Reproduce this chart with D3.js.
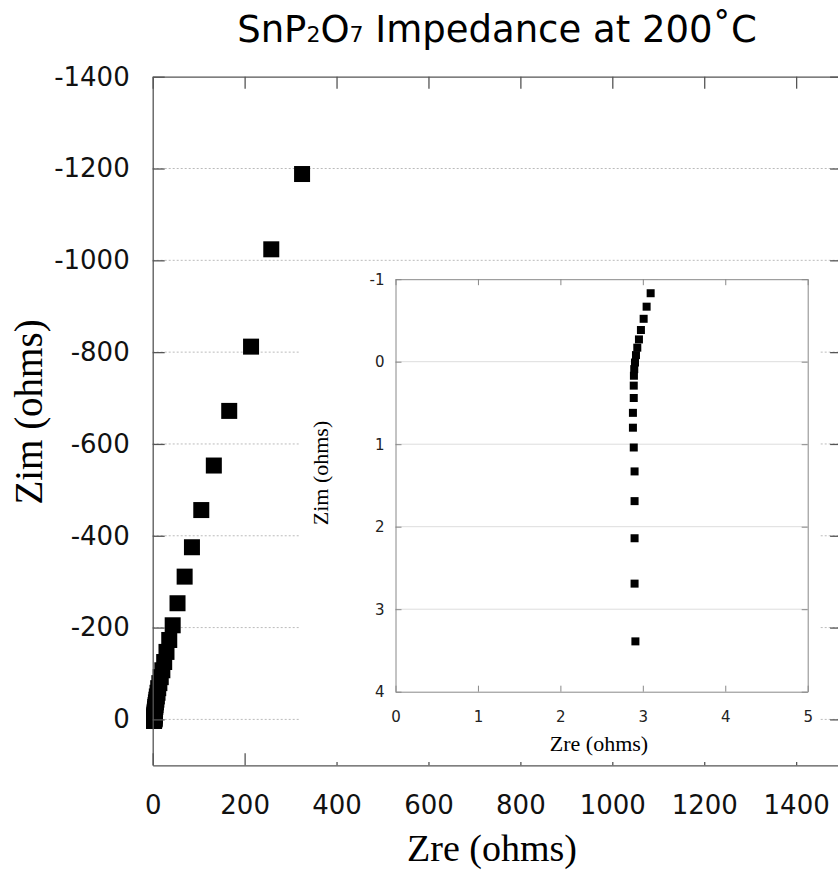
<!DOCTYPE html>
<html>
  <head>
    <meta charset="utf-8" />
    <title>SnP2O7 Impedance at 200˚C</title>
    <script src="https://d3js.org/d3.v7.min.js"></script>
    <style>
      body { margin: 0; background: #fff; }
      svg { display: block; }
    </style>
  </head>
  <body>
    <svg width="838" height="875"></svg>
    <script>
      // measured points, high Zim (low freq) first
      var zre = [325, 258, 214, 166.5, 133, 105.7, 85.4, 69.5, 54, 43.5,
        36, 30, 25, 21, 17.5, 14.5, 12, 10.5, 9, 8, 7, 6.2, 5.6, 5.1, 4.7,
        4.4, 4.1, 3.85, 3.65, 3.5, 3.38, 3.3, 3.24, 3.19, 3.14,
        3.095, 3.046, 3.01, 2.977, 2.953, 2.933, 2.917, 2.905, 2.896, 2.892,
        2.89, 2.89, 2.88, 2.88, 2.89, 2.9, 2.9, 2.9, 2.9, 2.91];
      var zim = [-1188, -1024, -812, -672, -553, -456, -375, -311, -253, -205,
        -173, -147, -125, -107, -92, -79, -68, -58, -50, -43, -37, -31, -27, -23, -19,
        -16, -13, -10, -8, -6, -4.5, -3.3, -2.4, -1.7, -1.05,
        -0.83, -0.667, -0.52, -0.384, -0.27, -0.17, -0.08, 0.01, 0.09, 0.17,
        0.29, 0.44, 0.62, 0.8, 1.04, 1.33, 1.69, 2.14, 2.69, 3.39];

      var mainXTicks = [0, 200, 400, 600, 800, 1000, 1200, 1400];
      var mainYTicks = [-1400, -1200, -1000, -800, -600, -400, -200, 0];
      var insetXTicks = [0, 1, 2, 3, 4, 5];
      var insetYTicks = [-1, 0, 1, 2, 3, 4];

      var points = zre.map(function (d, i) {
        return { re: d, im: zim[i] };
      });

      var svg = d3.select("svg");
      var sans = "DejaVu Sans, sans-serif";
      var serif = "Liberation Serif, Times New Roman, serif";

      // main chart
      var x = d3.scaleLinear().domain([0, 1500]).range([152.7, 842.1]);
      var y = d3.scaleLinear().domain([-1400, 100]).range([76.7, 765.3]);

      svg
        .append("text")
        .attr("x", 497)
        .attr("y", 42)
        .attr("text-anchor", "middle")
        .style("font-family", sans)
        .style("font-size", "37px")
        .html('SnP<tspan font-size="22px">2</tspan>O<tspan font-size="22px">7</tspan> Impedance at 200˚C');

      svg
        .selectAll(".grid")
        .data(mainYTicks.slice(1))
        .enter()
        .append("line")
        .attr("class", "grid")
        .attr("x1", x(0))
        .attr("x2", x(1500))
        .attr("y1", function (d) { return y(d); })
        .attr("y2", function (d) { return y(d); })
        .attr("stroke", "#bbb")
        .attr("stroke-dasharray", "2,2");

      svg
        .selectAll(".pt")
        .data(points)
        .enter()
        .append("rect")
        .attr("class", "pt")
        .attr("x", function (d) { return x(d.re) - 8; })
        .attr("y", function (d) { return y(d.im) - 8; })
        .attr("width", 16)
        .attr("height", 16)
        .attr("fill", "#000");

      function styleAxis(g, size) {
        g.selectAll("path, line").attr("stroke", "#555").attr("stroke-width", 1.3);
        g.selectAll("text")
          .attr("fill", "#111")
          .style("font-family", sans)
          .style("font-size", size);
      }

      svg
        .append("g")
        .attr("transform", "translate(" + x(0) + ",0)")
        .call(d3.axisLeft(y).tickValues(mainYTicks).tickSize(-12).tickSizeOuter(0).tickPadding(23).tickFormat(function (d) { return d; }))
        .call(styleAxis, "26px");
      svg
        .append("g")
        .attr("transform", "translate(" + x(1500) + ",0)")
        .call(d3.axisRight(y).tickValues(mainYTicks).tickSize(-12).tickSizeOuter(0).tickFormat(""))
        .call(styleAxis, "26px");
      svg
        .append("g")
        .attr("transform", "translate(0," + y(100) + ")")
        .call(d3.axisBottom(x).tickValues(mainXTicks).tickSize(-12).tickSizeOuter(0).tickPadding(30).tickFormat(function (d) { return d; }))
        .call(styleAxis, "26px");
      svg
        .append("g")
        .attr("transform", "translate(0," + y(-1400) + ")")
        .call(d3.axisTop(x).tickValues(mainXTicks).tickSize(-12).tickSizeOuter(0).tickFormat(""))
        .call(styleAxis, "26px");

      svg
        .append("text")
        .attr("x", 492)
        .attr("y", 861)
        .attr("text-anchor", "middle")
        .style("font-family", serif)
        .style("font-size", "38px")
        .text("Zre (ohms)");
      svg
        .append("text")
        .attr("transform", "translate(42,412) rotate(-90)")
        .attr("text-anchor", "middle")
        .style("font-family", serif)
        .style("font-size", "39px")
        .text("Zim (ohms)");

      // inset: close-up of the high-frequency end
      svg
        .append("rect")
        .attr("x", 300)
        .attr("y", 266)
        .attr("width", 520)
        .attr("height", 496)
        .attr("fill", "#fff");

      var ix = d3.scaleLinear().domain([0, 5]).range([395.5, 807.7]);
      var iy = d3.scaleLinear().domain([-1, 4]).range([279.2, 691.7]);

      svg
        .append("clipPath")
        .attr("id", "insetClip")
        .append("rect")
        .attr("x", ix(0))
        .attr("y", iy(-1))
        .attr("width", ix(5) - ix(0))
        .attr("height", iy(4) - iy(-1));

      svg
        .selectAll(".igrid")
        .data(insetYTicks.slice(1, -1))
        .enter()
        .append("line")
        .attr("class", "igrid")
        .attr("x1", ix(0))
        .attr("x2", ix(5))
        .attr("y1", function (d) { return iy(d); })
        .attr("y2", function (d) { return iy(d); })
        .attr("stroke", "#ddd");

      svg
        .append("g")
        .attr("clip-path", "url(#insetClip)")
        .selectAll(".ipt")
        .data(points.filter(function (d) { return d.re <= 5; }))
        .enter()
        .append("rect")
        .attr("class", "ipt")
        .attr("x", function (d) { return ix(d.re) - 4; })
        .attr("y", function (d) { return iy(d.im) - 4; })
        .attr("width", 8)
        .attr("height", 8)
        .attr("fill", "#000");

      function styleInset(g) {
        g.selectAll("path, line").attr("stroke", "#888").attr("stroke-width", 1);
        g.selectAll("text")
          .attr("fill", "#222")
          .style("font-family", sans)
          .style("font-size", "15px");
      }

      svg
        .append("g")
        .attr("transform", "translate(" + ix(0) + ",0)")
        .call(d3.axisLeft(iy).tickValues(insetYTicks).tickSize(-6).tickSizeOuter(0).tickPadding(11).tickFormat(function (d) { return d; }))
        .call(styleInset);
      svg
        .append("g")
        .attr("transform", "translate(" + ix(5) + ",0)")
        .call(d3.axisRight(iy).tickValues(insetYTicks).tickSize(-6).tickSizeOuter(0).tickFormat(""))
        .call(styleInset);
      svg
        .append("g")
        .attr("transform", "translate(0," + iy(4) + ")")
        .call(d3.axisBottom(ix).tickValues(insetXTicks).tickSize(-6).tickSizeOuter(0).tickPadding(20).tickFormat(function (d) { return d; }))
        .call(styleInset);
      svg
        .append("g")
        .attr("transform", "translate(0," + iy(-1) + ")")
        .call(d3.axisTop(ix).tickValues(insetXTicks).tickSize(-6).tickSizeOuter(0).tickFormat(""))
        .call(styleInset);

      svg
        .append("text")
        .attr("x", 599)
        .attr("y", 751)
        .attr("text-anchor", "middle")
        .style("font-family", serif)
        .style("font-size", "22px")
        .text("Zre (ohms)");
      svg
        .append("text")
        .attr("transform", "translate(328,473) rotate(-90)")
        .attr("text-anchor", "middle")
        .style("font-family", serif)
        .style("font-size", "22px")
        .text("Zim (ohms)");
    </script>
  </body>
</html>
